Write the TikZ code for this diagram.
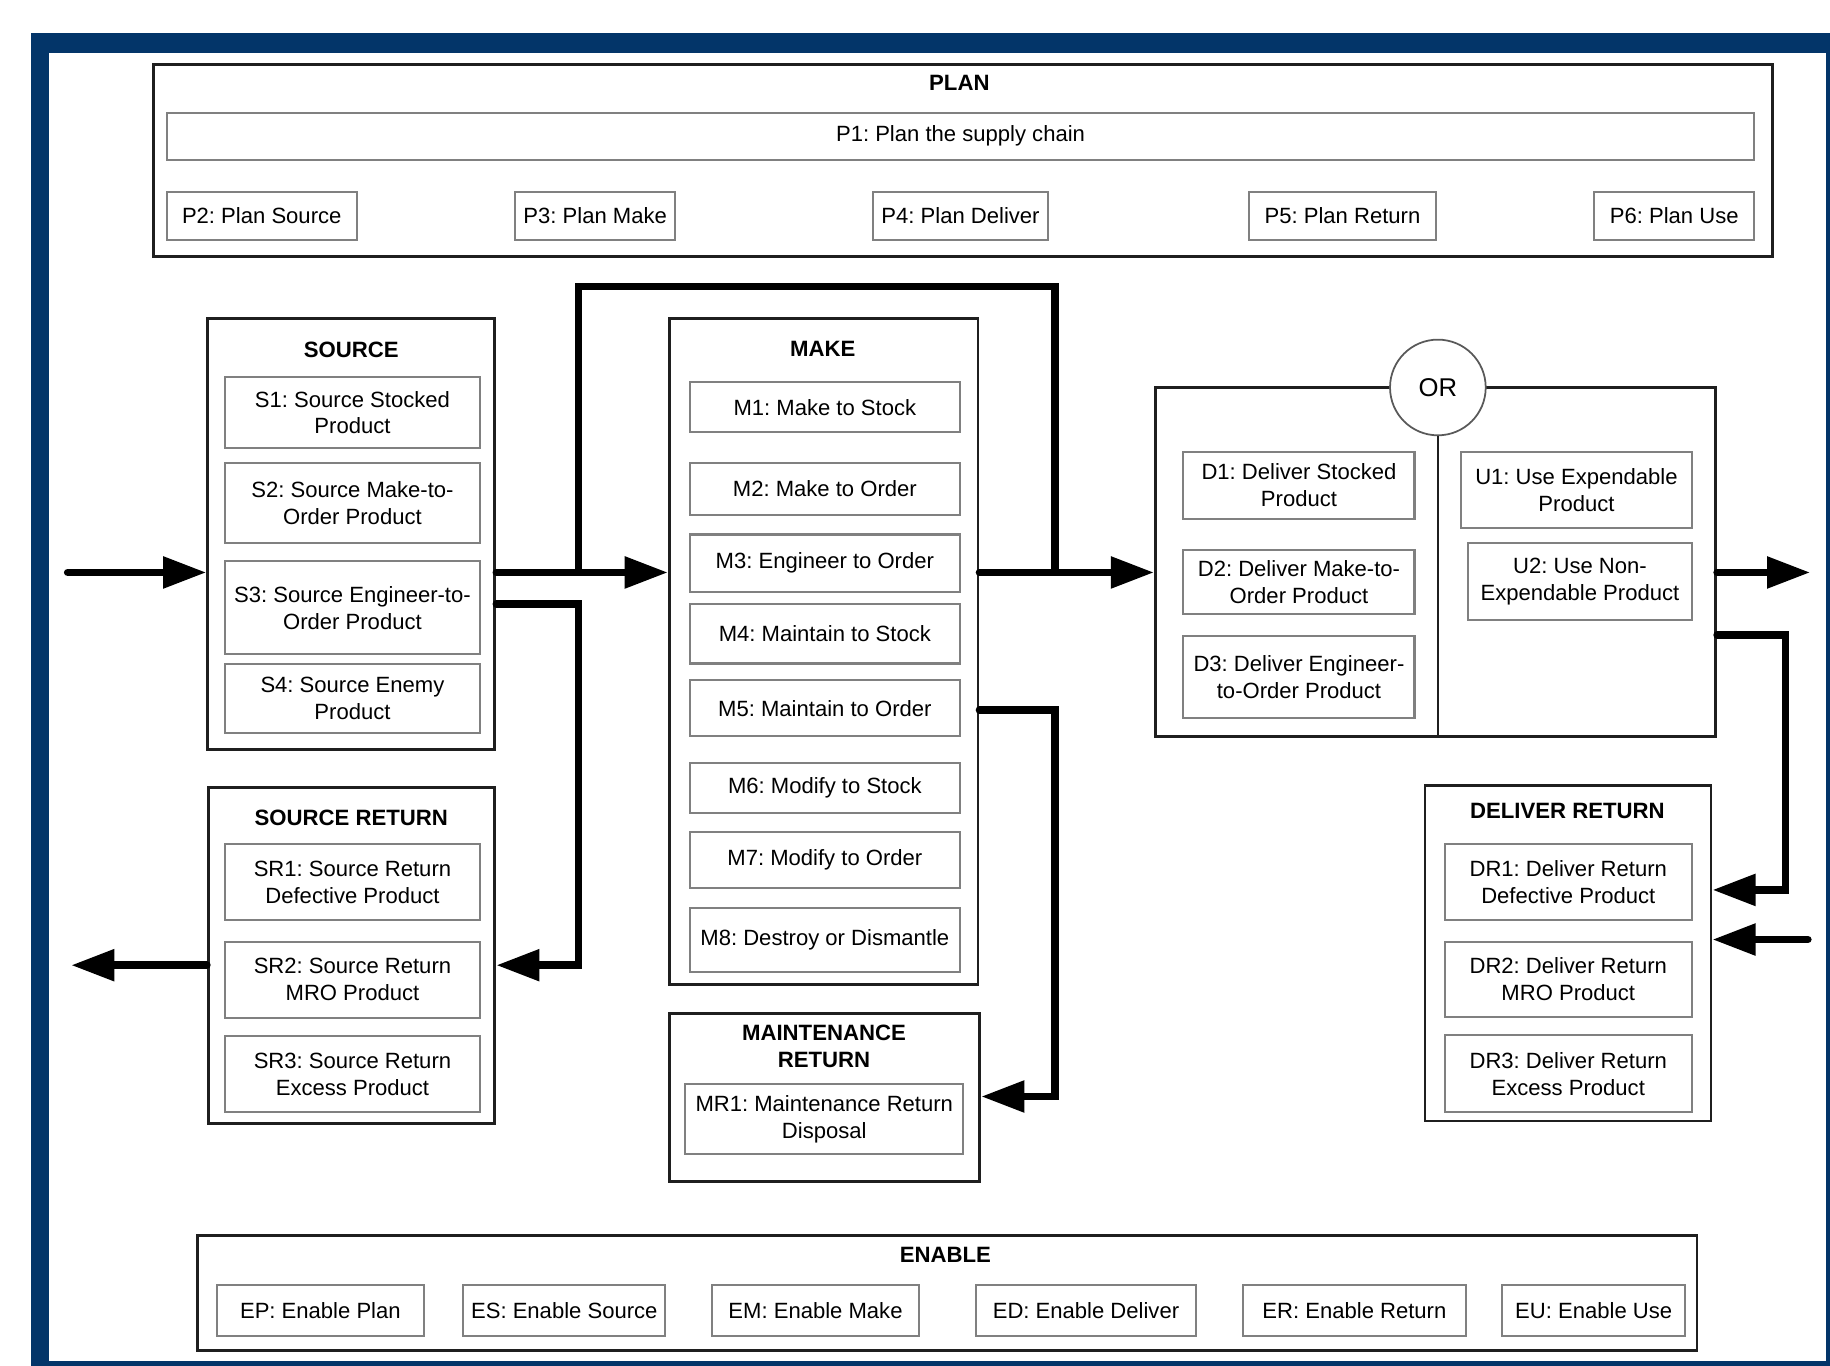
\documentclass[tikz,border=0pt]{standalone}
\usepackage{fontspec}
\setmainfont{Liberation Sans}
\usetikzlibrary{arrows.meta}
\definecolor{frameblue}{RGB}{3,53,105}
\frenchspacing
\newcommand\actbox[7][act]{%
  \pgfmathsetmacro\abw{#5-#3}%
  \pgfmathsetmacro\abh{#6-#4}%
  \node[#1,minimum width=\abw pt,minimum height=\abh pt] (#2) at ({(#3+#5)/2},{(#4+#6)/2}) {#7};}
\begin{document}
\begin{tikzpicture}[x=1pt,y=-1pt,
  every node/.style={font=\fontsize{18.9}{23}\selectfont},
  grp/.style={draw=black!88,line width=2.5pt,fill=white,inner sep=0pt},
  act/.style={draw=black!50,line width=1.8pt,fill=white,inner sep=0pt,align=center},
  ttl/.style={font=\fontsize{19}{23}\selectfont\bfseries,align=center,inner sep=0pt},
  bar/.style={line width=6.5pt,line join=miter},
  flow/.style={bar,line cap=round,-{Triangle[length=37pt,width=26pt]}}]
\useasboundingbox (0,0) rectangle (1568,1170);
% frame
\fill[frameblue] (26.5,28.5) rectangle (1568,1170);
\fill[white] (42,45) rectangle (1564.6,1166);

% PLAN
\actbox[grp]{planbox}{131.5}{55}{1519}{220}{}
\node[ttl] (planttl) at (822,71) {PLAN};
\actbox{p1}{143}{96.5}{1503}{137}{P1: Plan the supply chain}
\actbox{p2}{143}{164.5}{305.5}{205.5}{P2: Plan Source}
\actbox{p3}{441.5}{164.5}{578.5}{205.5}{P3: Plan Make}
\actbox{p4}{748}{164.5}{898}{205.5}{P4: Plan Deliver}
\actbox{p5}{1070}{164.5}{1230.5}{205.5}{P5: Plan Return}
\actbox{p6}{1366}{164.5}{1503}{205.5}{P6: Plan Use}

% SOURCE
\actbox[grp]{srcbox}{178}{273}{424}{642}{}
\node[ttl] (srcttl) at (301,300) {SOURCE};
\actbox{s1}{193}{323}{411}{384}{S1: Source Stocked\\Product}
\actbox{s2}{193}{396.5}{411}{465.5}{S2: Source Make-to-\\Order Product}
\actbox{s3}{193}{481}{411}{560.5}{S3: Source Engineer-to-\\Order Product}
\actbox{s4}{193}{569}{411}{628}{S4: Source Enemy\\Product}

% SOURCE RETURN
\actbox[grp]{srbox}{178.5}{674.5}{424}{963}{}
\node[ttl] (srttl) at (301,701) {SOURCE RETURN};
\actbox{sr1}{193}{723.5}{411}{788.5}{SR1: Source Return\\Defective Product}
\actbox{sr2}{193}{807}{411}{872}{SR2: Source Return\\MRO Product}
\actbox{sr3}{193}{888}{411}{953}{SR3: Source Return\\Excess Product}

% MAKE
\actbox[grp]{makebox}{573.5}{273}{838}{843.5}{}
\node[ttl] (makettl) at (705,299) {MAKE};
\actbox{m1}{591}{327.5}{822.5}{370.5}{M1: Make to Stock}
\actbox{m2}{591}{396.5}{822.5}{441}{M2: Make to Order}
\actbox{m3}{591}{458}{822.5}{507}{M3: Engineer to Order}
\actbox{m4}{591}{517.5}{822.5}{568.5}{M4: Maintain to Stock}
\actbox{m5}{591}{582.5}{822.5}{631}{M5: Maintain to Order}
\actbox{m6}{591}{653.5}{822.5}{696.5}{M6: Modify to Stock}
\actbox{m7}{591}{713}{822.5}{761}{M7: Modify to Order}
\actbox{m8}{591}{778}{822.5}{832.5}{M8: Destroy or Dismantle}

% MAINTENANCE RETURN
\actbox[grp]{mrbox}{573.5}{868}{839.5}{1012}{}
\node[ttl] (mrttl) at (706,896.5) {MAINTENANCE\\RETURN};
\actbox{mr1}{587}{929}{825.5}{989}{MR1: Maintenance Return\\Disposal}

% DELIVER / USE
\actbox[grp]{dubox}{990}{332}{1470}{631}{}
\actbox{d1}{1014}{387}{1212}{445}{D1: Deliver Stocked\\Product}
\actbox{d2}{1014}{471}{1212}{526}{D2: Deliver Make-to-\\Order Product}
\actbox{d3}{1014}{545}{1212}{615}{D3: Deliver Engineer-\\to-Order Product}
\actbox{u1}{1251.5}{387}{1450}{452.5}{U1: Use Expendable\\Product}
\actbox{u2}{1257.5}{465}{1450}{531}{U2: Use Non-\\Expendable Product}
\node[circle,draw=black!65,line width=1.5pt,fill=white,minimum size=82pt,inner sep=0pt,
  font=\fontsize{22}{26}\selectfont] (orc) at (1232,332) {OR};
\draw[black!88,line width=2pt] (orc.south) -- (orc.south |- dubox.south);

% DELIVER RETURN
\actbox[grp]{drbox}{1221}{673}{1466}{960.5}{}
\node[ttl] (drttl) at (1343,695) {DELIVER RETURN};
\actbox{dr1}{1238}{723}{1449.5}{788}{DR1: Deliver Return\\Defective Product}
\actbox{dr2}{1238}{807}{1449.5}{871}{DR2: Deliver Return\\MRO Product}
\actbox{dr3}{1238}{887}{1449.5}{953}{DR3: Deliver Return\\Excess Product}

% ENABLE
\actbox[grp]{enbox}{169.5}{1058.5}{1454}{1157}{}
\node[ttl] (enttl) at (810,1075) {ENABLE};
\actbox{ep}{186}{1101}{363}{1144.5}{EP: Enable Plan}
\actbox{es}{397}{1101}{570}{1144.5}{ES: Enable Source}
\actbox{em}{610}{1101}{787.5}{1144.5}{EM: Enable Make}
\actbox{ed}{836}{1101}{1025}{1144.5}{ED: Enable Deliver}
\actbox{er}{1065}{1101}{1256}{1144.5}{ER: Enable Return}
\actbox{eu}{1287}{1101}{1444}{1144.5}{EU: Enable Use}

% connector coordinates
\coordinate (inL) at (58,490.5);
\coordinate (lpA) at (495.5,245.5);
\coordinate (lpB) at (904,245.5);
\coordinate (srY) at (495.5,517.5);
\coordinate (srZ) at (495.5,827);
\coordinate (srOut) at (61,827);
\coordinate (mrX) at (904,608.5);
\coordinate (mrY) at (904,939.5);
\coordinate (uOut) at (1551,490.5);
\coordinate (drX) at (1530,544);
\coordinate (drY) at (1530,762.5);
\coordinate (drIn) at (1549,805);

% connectors
\draw[flow] (inL) -- (srcbox.west |- inL);
\draw[flow] (srcbox.east |- inL) -- (makebox.west |- inL);
\draw[flow] (makebox.east |- inL) -- (dubox.west |- inL);
\draw[bar] (lpA |- inL) -- (lpA) -- (lpB) -- (lpB |- inL);
\draw[flow] (srcbox.east |- srY) -- (srY) -- (srZ) -- (srbox.east |- srZ);
\draw[flow] (srbox.west |- srOut) -- (srOut);
\draw[flow] (makebox.east |- mrX) -- (mrX) -- (mrY) -- (mrbox.east |- mrY);
\draw[flow] (dubox.east |- uOut) -- (uOut);
\draw[flow] (dubox.east |- drX) -- (drX) -- (drY) -- (drbox.east |- drY);
\draw[flow] (drIn) -- (drbox.east |- drIn);
\end{tikzpicture}
\end{document}
